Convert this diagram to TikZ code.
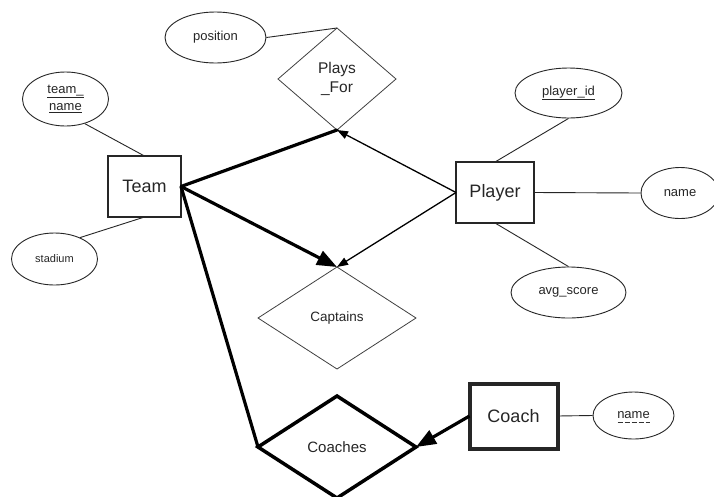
\documentclass[tikz,border=0pt]{standalone}
\usepackage{fontspec}
\setmainfont{Liberation Sans}
\usetikzlibrary{arrows.meta,shapes.geometric}
\begin{document}
\begin{tikzpicture}[x=1pt,y=-1pt,
  txt/.style={text=black!85},
  attr/.style={ellipse,draw=black!85,line width=0.9pt,inner sep=0pt,txt,font=\fontsize{13}{15}\selectfont},
  ent/.style={rectangle,draw=black!85,line width=1.1pt,inner sep=0pt,outer sep=0pt,txt,font=\fontsize{18}{20}\selectfont},
  rel/.style={diamond,draw=black!75,line width=0.8pt,inner sep=0pt,outer sep=0pt,txt,align=center},
  conn/.style={draw=black!85,line width=0.9pt},
  thick conn/.style={draw=black,line width=3.2pt},
  thin arrow/.style={draw=black,line width=1.3pt,-{Triangle[length=11pt,width=8pt]}},
  big arrow/.style={draw=black,line width=3.2pt,-{Triangle[length=20pt,width=15pt]}}
]
\useasboundingbox (0,0) rectangle (714,496);
\fill[white] (0,0) rectangle (714,496);

% entities
\node[ent,minimum width=73pt,minimum height=61pt] (team) at (144.5,186.5) {Team};
\node[ent,minimum width=78pt,minimum height=61pt] (player) at (495,192.5) {Player};
\node[ent,line width=4pt,minimum width=88pt,minimum height=65pt] (coach) at (513.5,416) {Coach};

% relationships
\node[rel,minimum width=118pt,minimum height=102pt,font=\fontsize{15.5}{19}\selectfont] (plays) at (337,79) {Plays\\\_For};
\node[rel,minimum width=158pt,minimum height=102pt,font=\fontsize{13.5}{15}\selectfont] (captains) at (337,318) {Captains};
\node[rel,draw=black,line width=3.5pt,minimum width=158pt,minimum height=102pt,font=\fontsize{15}{17}\selectfont] (coaches) at (337,447) {Coaches};

% attributes
\node[attr,minimum width=101pt,minimum height=51pt] (position) at (215.5,37.5) {position};
\node[attr,minimum width=86pt,minimum height=54pt,align=center,font=\fontsize{13}{17}\selectfont] (teamname) at (65.5,99) {\underline{team\_}\\\underline{name}};
\node[attr,minimum width=86pt,minimum height=52pt,font=\fontsize{11}{13}\selectfont] (stadium) at (54.5,259) {stadium};
\node[attr,minimum width=107pt,minimum height=50pt] (playerid) at (568.5,93) {\underline{player\_id}};
\node[attr,minimum width=78pt,minimum height=51pt] (pname) at (680,193) {name};
\node[attr,minimum width=115pt,minimum height=51pt] (avg) at (568.5,292.5) {avg\_score};
\node[attr,minimum width=81pt,minimum height=47pt] (cname) at (633.5,415.5) {name};
\draw[black!80,line width=0.8pt,dash pattern=on 5pt off 2pt] ([shift={(-16,7)}]cname.center) -- ([shift={(16,7)}]cname.center);

% attribute links
\draw[conn] (position.east) -- (plays.north);
\draw[conn] (teamname.-52) -- (team.north);
\draw[conn] (stadium.40) -- (team.south);
\draw[conn] (playerid.south) -- (player.north);
\draw[conn] (player.east) -- (pname.west);
\draw[conn] (player.south) -- (avg.north);
\draw[conn] (coach.east) -- (cname.west);

% relationship links
\draw[thick conn,line cap=round,line join=round] (plays.south) -- (team.east) -- (coaches.west);
\draw[big arrow] (team.east) -- (captains.north);
\draw[thin arrow] (player.west) -- (plays.south);
\draw[thin arrow] (player.west) -- (captains.north);
\draw[big arrow] (coach.west) -- (coaches.east);
\end{tikzpicture}
\end{document}
